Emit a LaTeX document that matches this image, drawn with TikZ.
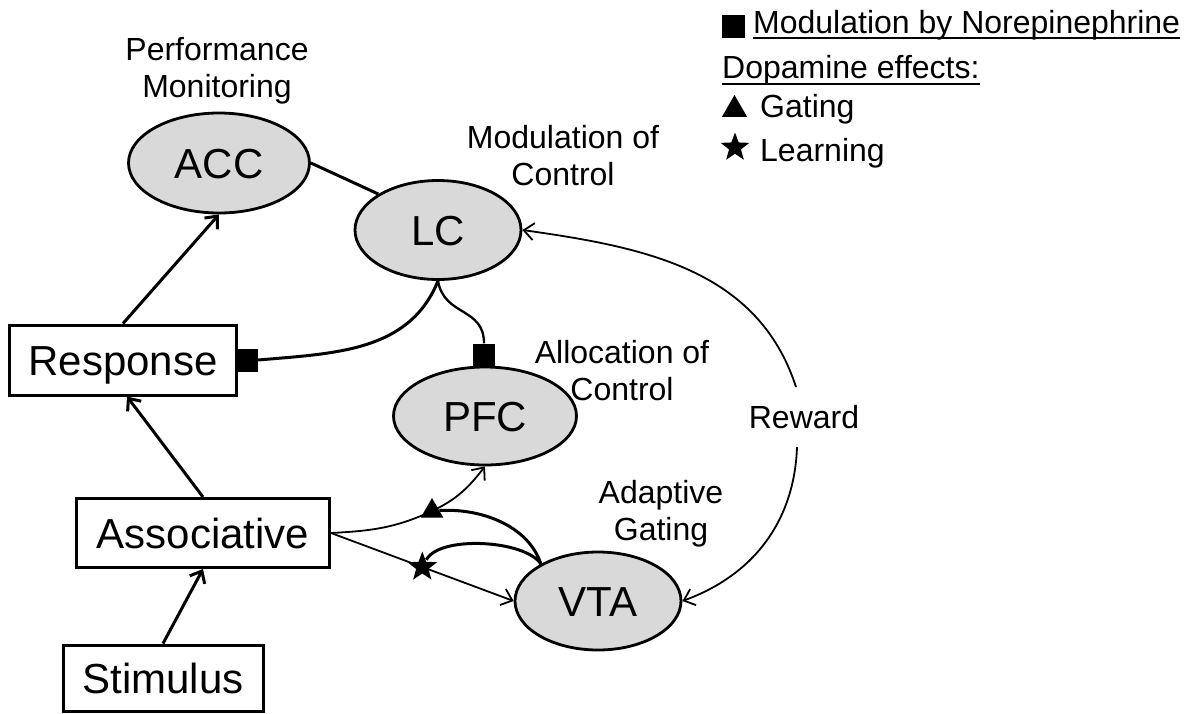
\documentclass[tikz,border=0pt]{standalone}
\usepackage{fontspec}
\setmainfont{Liberation Sans}
\usetikzlibrary{arrows.meta,shapes.geometric}
\definecolor{nodegray}{RGB}{217,217,217}
\tikzset{
  region/.style={ellipse, draw=black, fill=nodegray, line width=2.8pt, inner sep=0pt,
    text height=30pt, text depth=0pt, font=\fontsize{42}{48}\selectfont},
  stage/.style={rectangle, draw=black, fill=white, line width=3pt, inner sep=0pt,
    text height=30pt, text depth=0pt, font=\fontsize{42}{48}\selectfont},
  caption/.style={align=center, inner sep=0pt, font=\fontsize{32}{37}\selectfont},
  legendtext/.style={anchor=base west, inner sep=0pt, font=\fontsize{32}{37}\selectfont},
  nemark/.style={rectangle, fill=black, inner sep=0pt, minimum width=22pt, minimum height=23pt},
  gatemark/.style={regular polygon, regular polygon sides=3, fill=black, inner sep=0pt, minimum size=26pt},
  learnmark/.style={star, star points=5, star point ratio=2.4, fill=black, inner sep=0pt, minimum size=31pt},
  heavy/.style={line width=3pt},
  light/.style={line width=1.8pt},
  tip/.style={-{Straight Barb[length=10pt,width=17pt]}},
}
\begin{document}
\begin{tikzpicture}[x=1pt,y=1pt]
\useasboundingbox (0,0) rectangle (1195,-713);

% brain regions
\node[region, minimum width=181pt, minimum height=100pt] (acc) at (219,-163) {ACC};
\node[region, minimum width=166pt, minimum height=99pt]  (lc)  at (438,-230) {LC};
\node[region, minimum width=183pt, minimum height=98pt]  (pfc) at (485,-416) {PFC};
\node[region, minimum width=166pt, minimum height=98pt]  (vta) at (598,-601) {VTA};

% processing stages
\node[stage, minimum width=227pt, minimum height=70pt] (resp)  at (123,-360) {Response};
\node[stage, minimum width=253pt, minimum height=69pt] (assoc) at (203,-533) {Associative};
\node[stage, minimum width=200pt, minimum height=66pt] (stim)  at (163,-678) {Stimulus};

% function labels (base anchor sits on the last line)
\node[caption, anchor=base] (perf)  at (217,-97)  {Performance\\Monitoring};
\node[caption, anchor=base] (modc)  at (563,-185) {Modulation of\\Control};
\node[caption, anchor=base] (alloc) at (622,-400) {Allocation of\\Control};
\node[caption, anchor=base] (adapt) at (661,-540) {Adaptive\\Gating};
\node[caption, anchor=base] (reward) at (804,-428) {Reward};

% norepinephrine terminals
\node[nemark] (respmark) at (247,-360) {};
\node[nemark] (pfcmark)  at (484,-355) {};

% feed-forward pathway
\draw[heavy,tip] (resp.north) -- (acc.south);
\draw[heavy,tip] (assoc.north) -- ([xshift=4pt]resp.south);
\draw[heavy,tip] (stim.north) -- (assoc.south);

% monitoring and modulation
\draw[heavy] (acc.east) -- (lc.north west);
\draw[heavy] (lc.south) to[out=-112,in=5] (respmark.east);
\draw[line width=2.3pt] (lc.south) to[out=-80,in=90,looseness=1.2] (pfcmark.north);

% reward signal
\coordinate (rtop) at (796,-387);
\coordinate (rbot) at (797,-447);
\draw[light,tip] (rtop) to[out=108,in=-8] (lc.east);
\draw[light,tip] (rbot) to[out=-92,in=20] (vta.east);

% dopamine gating and learning
\node[gatemark] (gate) at (432,-511) {};
\draw[light,tip] (assoc.east) to[out=3,in=-155] (gate.center) to[out=25,in=-128] (pfc.south);
\draw[light,tip] (assoc.east) -- node[learnmark,pos=0.5] (learn) {} (vta.west);
\draw[heavy] (vta.147) .. controls (528,-525) and (480,-508) .. (gate);
\draw[heavy] (vta.147) .. controls (525,-540) and (440,-535) .. (learn);

% legend
\node[nemark, minimum width=23pt, minimum height=23pt] (nekey) at (733.5,-26.5) {};
\node[legendtext] (nelabel) at (753,-33) {Modulation by Norepinephrine};
\draw[line width=2pt] ([yshift=-5pt]nelabel.base west) -- ([yshift=-5pt]nelabel.base east);
\node[legendtext] (dalabel) at (722,-78) {Dopamine effects:};
\draw[line width=2pt] ([yshift=-6pt]dalabel.base west) -- ([yshift=-6pt]dalabel.base east);
\node[gatemark, minimum size=29pt] (gatekey) at (734.5,-109.5) {};
\node[legendtext] (gatelabel) at (760,-117) {Gating};
\node[learnmark, minimum size=30pt] (learnkey) at (735,-147.5) {};
\node[legendtext] (learnlabel) at (760,-161) {Learning};
\end{tikzpicture}
\end{document}
